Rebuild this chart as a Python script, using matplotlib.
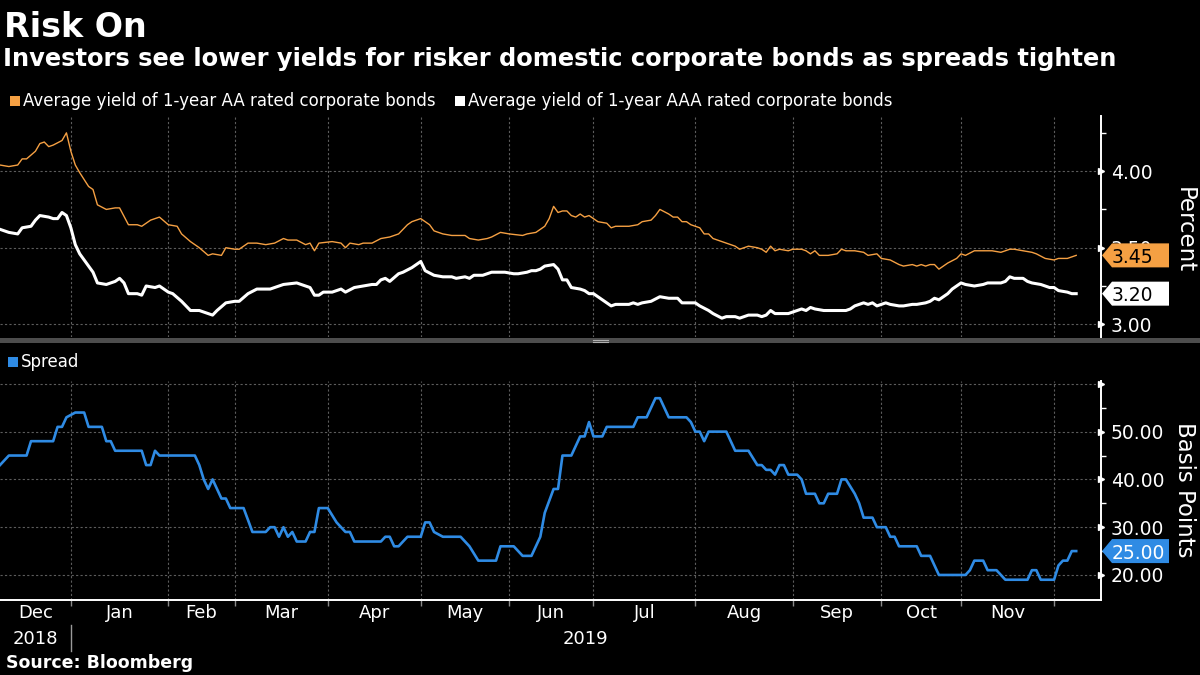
import matplotlib

matplotlib.use("Agg")

import matplotlib.pyplot as plt
import matplotlib.transforms as mtransforms
import numpy as np
from matplotlib.lines import Line2D
from matplotlib.patches import Polygon, Rectangle
from matplotlib.ticker import FixedLocator, FuncFormatter

# trading-day calendar (China interbank) used for the x axis
START = "2018-12-07"
HOLIDAYS = [
    "2018-12-31", "2019-01-01",
    "2019-02-04", "2019-02-05", "2019-02-06", "2019-02-07", "2019-02-08",
    "2019-04-05", "2019-05-01", "2019-05-02", "2019-05-03", "2019-06-07",
    "2019-09-13", "2019-10-01", "2019-10-02", "2019-10-03", "2019-10-04", "2019-10-07",
]
MONTH_STARTS = ["2019-01-01", "2019-02-01", "2019-03-01", "2019-04-01", "2019-05-01", "2019-06-01",
                "2019-07-01", "2019-08-01", "2019-09-01", "2019-10-01", "2019-11-01", "2019-12-01"]
MONTH_LABELS = ["Dec", "Jan", "Feb", "Mar", "Apr", "May", "Jun", "Jul", "Aug", "Sep", "Oct", "Nov"]
YEAR_LABELS = ["2018", "2019"]

# (trading day since START, value)
aa_yield = [
    (0, 4.04), (2, 4.03), (4, 4.04), (5, 4.08), (6, 4.08), (8, 4.13), (9, 4.18), (10, 4.19), (11, 4.16),
    (12, 4.17), (14, 4.20), (15, 4.25), (16, 4.13), (17, 4.04), (18, 3.99), (20, 3.90), (21, 3.88),
    (22, 3.78), (24, 3.75), (26, 3.76), (27, 3.76), (29, 3.65), (31, 3.65), (32, 3.64), (34, 3.68),
    (36, 3.70), (38, 3.65), (40, 3.64), (41, 3.59), (43, 3.54), (45, 3.50), (47, 3.45), (48, 3.46),
    (50, 3.45), (51, 3.50), (53, 3.49), (54, 3.49), (56, 3.53), (58, 3.53), (60, 3.52), (62, 3.53),
    (64, 3.56), (65, 3.55), (67, 3.55), (69, 3.52), (70, 3.53), (71, 3.48), (72, 3.53), (75, 3.54),
    (77, 3.53), (78, 3.50), (79, 3.53), (81, 3.52), (82, 3.53), (84, 3.53), (86, 3.56), (88, 3.57),
    (90, 3.59), (92, 3.65), (93, 3.67), (95, 3.69), (97, 3.65), (98, 3.61), (100, 3.59), (102, 3.58),
    (105, 3.58), (106, 3.56), (108, 3.55), (110, 3.56), (111, 3.57), (113, 3.60), (115, 3.59),
    (118, 3.58), (119, 3.59), (121, 3.60), (123, 3.64), (124, 3.69), (125, 3.77), (126, 3.73),
    (127, 3.74), (128, 3.74), (129, 3.71), (130, 3.70), (131, 3.72), (132, 3.70), (133, 3.71),
    (134, 3.69), (135, 3.67), (137, 3.66), (138, 3.63), (139, 3.64), (142, 3.64), (144, 3.65),
    (145, 3.67), (147, 3.68), (148, 3.71), (149, 3.75), (151, 3.72), (152, 3.70), (153, 3.70),
    (154, 3.67), (155, 3.67), (156, 3.65), (158, 3.63), (159, 3.59), (160, 3.59), (161, 3.56),
    (163, 3.54), (165, 3.52), (166, 3.51), (167, 3.49), (169, 3.51), (171, 3.50), (172, 3.49),
    (173, 3.47), (174, 3.51), (175, 3.48), (176, 3.49), (178, 3.48), (179, 3.49), (181, 3.49),
    (182, 3.48), (183, 3.46), (184, 3.48), (185, 3.45), (187, 3.45), (189, 3.46), (190, 3.49),
    (191, 3.48), (193, 3.48), (195, 3.47), (196, 3.45), (198, 3.46), (199, 3.43), (201, 3.42),
    (203, 3.39), (204, 3.38), (206, 3.39), (207, 3.38), (208, 3.39), (209, 3.38), (210, 3.39),
    (211, 3.39), (212, 3.36), (214, 3.40), (216, 3.43), (217, 3.46), (218, 3.45), (220, 3.48),
    (222, 3.48), (224, 3.48), (226, 3.47), (228, 3.49), (229, 3.49), (231, 3.48), (233, 3.47),
    (234, 3.46), (236, 3.43), (238, 3.42), (239, 3.43), (241, 3.43), (242, 3.44), (243, 3.45),
]

aaa_yield = [
    (0, 3.62), (2, 3.60), (4, 3.59), (5, 3.63), (7, 3.64), (8, 3.68), (9, 3.71), (11, 3.70), (12, 3.69),
    (13, 3.69), (14, 3.73), (15, 3.71), (16, 3.63), (17, 3.52), (18, 3.46), (20, 3.38), (21, 3.34),
    (22, 3.27), (24, 3.26), (26, 3.28), (27, 3.30), (28, 3.27), (29, 3.20), (31, 3.20), (32, 3.19),
    (33, 3.25), (35, 3.24), (36, 3.25), (38, 3.21), (39, 3.20), (41, 3.15), (43, 3.09), (45, 3.09),
    (46, 3.08), (48, 3.06), (49, 3.09), (51, 3.14), (53, 3.15), (54, 3.15), (56, 3.20), (58, 3.23),
    (59, 3.23), (61, 3.23), (62, 3.24), (64, 3.26), (67, 3.27), (68, 3.26), (70, 3.24), (71, 3.19),
    (72, 3.19), (73, 3.21), (75, 3.21), (77, 3.23), (78, 3.21), (80, 3.24), (82, 3.25), (84, 3.26),
    (85, 3.26), (86, 3.29), (87, 3.30), (88, 3.28), (90, 3.33), (91, 3.34), (93, 3.37), (94, 3.39),
    (95, 3.41), (96, 3.35), (98, 3.32), (100, 3.31), (102, 3.31), (103, 3.30), (105, 3.31), (106, 3.30),
    (107, 3.32), (109, 3.32), (111, 3.34), (113, 3.34), (114, 3.34), (116, 3.33), (117, 3.33),
    (119, 3.34), (120, 3.35), (121, 3.35), (122, 3.36), (123, 3.38), (125, 3.39), (126, 3.36),
    (127, 3.29), (128, 3.29), (129, 3.24), (131, 3.23), (132, 3.22), (133, 3.20), (134, 3.20),
    (135, 3.18), (136, 3.16), (138, 3.12), (139, 3.13), (142, 3.13), (143, 3.14), (144, 3.13),
    (145, 3.14), (147, 3.15), (149, 3.18), (151, 3.17), (153, 3.17), (154, 3.14), (157, 3.14),
    (158, 3.12), (160, 3.09), (161, 3.07), (163, 3.04), (164, 3.05), (166, 3.05), (167, 3.04),
    (169, 3.06), (171, 3.06), (172, 3.05), (173, 3.06), (174, 3.09), (175, 3.07), (178, 3.07),
    (179, 3.08), (181, 3.10), (182, 3.09), (183, 3.11), (184, 3.10), (186, 3.09), (188, 3.09),
    (191, 3.09), (192, 3.10), (193, 3.12), (195, 3.14), (196, 3.13), (197, 3.14), (198, 3.12),
    (200, 3.14), (201, 3.13), (203, 3.12), (204, 3.12), (206, 3.13), (207, 3.13), (209, 3.14),
    (210, 3.15), (211, 3.17), (212, 3.16), (214, 3.20), (215, 3.23), (217, 3.27), (218, 3.26),
    (220, 3.25), (222, 3.26), (223, 3.27), (224, 3.27), (226, 3.27), (227, 3.28), (228, 3.31),
    (229, 3.30), (231, 3.30), (232, 3.28), (233, 3.27), (235, 3.26), (236, 3.25), (237, 3.24),
    (238, 3.24), (239, 3.22), (241, 3.21), (242, 3.20), (243, 3.20),
]

spread_bp = [
    (0, 43), (2, 45), (6, 45), (7, 48), (12, 48), (13, 51), (14, 51), (15, 53), (17, 54), (19, 54),
    (20, 51), (23, 51), (24, 48), (25, 48), (26, 46), (32, 46), (33, 43), (34, 43), (35, 46), (36, 45),
    (44, 45), (45, 43), (46, 40), (47, 38), (48, 40), (50, 36), (51, 36), (52, 34), (55, 34), (57, 29),
    (60, 29), (61, 30), (62, 30), (63, 28), (64, 30), (65, 28), (66, 29), (67, 27), (69, 27), (70, 29),
    (71, 29), (72, 34), (74, 34), (76, 31), (78, 29), (79, 29), (80, 27), (86, 27), (87, 28), (88, 28),
    (89, 26), (90, 26), (92, 28), (95, 28), (96, 31), (97, 31), (98, 29), (100, 28), (104, 28),
    (106, 26), (108, 23), (112, 23), (113, 26), (116, 26), (118, 24), (120, 24), (122, 28), (123, 33),
    (125, 38), (126, 38), (127, 45), (129, 45), (131, 49), (132, 49), (133, 52), (134, 49), (136, 49),
    (137, 51), (143, 51), (144, 53), (146, 53), (148, 57), (149, 57), (151, 53), (155, 53), (156, 52),
    (157, 50), (158, 50), (159, 48), (160, 50), (164, 50), (166, 46), (169, 46), (171, 43), (172, 43),
    (173, 42), (174, 42), (175, 41), (176, 43), (177, 43), (178, 41), (180, 41), (181, 40), (182, 37),
    (184, 37), (185, 35), (186, 35), (187, 37), (189, 37), (190, 40), (191, 40), (193, 37), (194, 35),
    (195, 32), (197, 32), (198, 30), (200, 30), (201, 28), (202, 28), (203, 26), (207, 26), (208, 24),
    (210, 24), (212, 20), (218, 20), (219, 21), (220, 23), (222, 23), (223, 21), (225, 21), (227, 19),
    (232, 19), (233, 21), (234, 21), (235, 19), (238, 19), (239, 22), (240, 23), (241, 23), (242, 25),
    (243, 25),
]

BG = "black"
ORANGE = "#f5a043"
WHITE = "white"
BLUE = "#2f8be4"
GRID = "#5c5c5c"
FONT = "DejaVu Sans"

plt.rcParams["font.family"] = FONT

W, H = 1200, 675
XMAX = 248.6

month_edges = np.busday_count(START, MONTH_STARTS, holidays=HOLIDAYS)
label_edges = np.concatenate([[0], month_edges])
month_mid = (label_edges[:-1] + label_edges[1:]) / 2


def fx(px):
    return px / W


def fy(py):
    return 1 - py / H


fig = plt.figure(figsize=(12, 6.75), dpi=100, facecolor=BG)
ax_top = fig.add_axes([0, fy(337), fx(1101), fy(116) - fy(337)])
ax_bot = fig.add_axes([0, fy(600), fx(1101), fy(381) - fy(600)])


def style_axis(ax, ylim, majors, minors, fmt):
    ax.set_facecolor(BG)
    ax.set_xlim(0, XMAX)
    ax.set_ylim(*ylim)
    for side in ("top", "left", "bottom"):
        ax.spines[side].set_visible(False)
    ax.spines["right"].set_color(WHITE)
    ax.spines["right"].set_linewidth(1.4)
    ax.yaxis.tick_right()
    ax.yaxis.set_major_locator(FixedLocator(majors))
    ax.yaxis.set_minor_locator(FixedLocator(minors))
    ax.yaxis.set_major_formatter(FuncFormatter(fmt))
    ax.tick_params(axis="y", which="major", length=0, pad=7, labelsize=13.5, labelcolor=WHITE)
    ax.tick_params(axis="y", which="minor", length=3.5, width=1, color=WHITE)
    ax.xaxis.set_major_locator(FixedLocator(month_edges))
    ax.tick_params(axis="x", which="both", length=0, labelbottom=False)
    ax.grid(True, axis="both", which="major", color=GRID, linestyle=(0, (2, 2)), linewidth=0.8)
    ax.set_axisbelow(True)
    ax.plot(np.ones(len(majors)), majors, transform=ax.get_yaxis_transform(), marker=">",
            markersize=5, color=WHITE, linestyle="none", clip_on=False)


style_axis(ax_top, (2.917, 4.36), [3.0, 3.5, 4.0], [3.25, 3.75, 4.25], lambda v, p: f"{v:.2f}")
style_axis(ax_bot, (14.76, 60.6), [20, 30, 40, 50, 60], [25, 35, 45, 55],
           lambda v, p: "" if v >= 60 else f"{v:.2f}")

ax_bot.spines["bottom"].set_visible(True)
ax_bot.spines["bottom"].set_color(WHITE)
ax_bot.spines["bottom"].set_linewidth(1.4)
ax_bot.tick_params(axis="x", which="major", length=4, width=1, color="#8a8a8a", direction="out")

aa_d, aa_v = zip(*aa_yield)
aaa_d, aaa_v = zip(*aaa_yield)
sp_d, sp_v = zip(*spread_bp)

ax_top.plot(aa_d, aa_v, color=ORANGE, linewidth=1.0)
ax_top.plot(aaa_d, aaa_v, color=WHITE, linewidth=2.2)
ax_bot.plot(sp_d, sp_v, color=BLUE, linewidth=1.9)

# axis titles on the right
fig.text(fx(1184), fy(230), "Percent", rotation=270, color=WHITE, fontsize=16.5,
         ha="center", va="center")
fig.text(fx(1184), fy(490), "Basis Points", rotation=270, color=WHITE, fontsize=16.5,
         ha="center", va="center")


def value_tag(ax, value, text, face, txt_color):
    _, yd = ax.transData.transform((0, value))
    yc = fig.transFigure.inverted().transform((0, yd))[1]
    hh = 12 / H
    pts = [(fx(1102), yc), (fx(1112), yc + hh), (fx(1169), yc + hh), (fx(1169), yc - hh), (fx(1112), yc - hh)]
    fig.patches.append(Polygon(pts, closed=True, facecolor=face, edgecolor="none",
                               transform=fig.transFigure, zorder=5))
    fig.text(fx(1112), yc, text, color=txt_color, fontsize=13.5, ha="left", va="center_baseline", zorder=6)


value_tag(ax_top, aa_v[-1], f"{aa_v[-1]:.2f}", ORANGE, "black")
value_tag(ax_top, aaa_v[-1], f"{aaa_v[-1]:.2f}", WHITE, "black")
value_tag(ax_bot, sp_v[-1], f"{sp_v[-1]:.2f}", BLUE, WHITE)

# month / year labels below the bottom panel
xfig = mtransforms.blended_transform_factory(ax_bot.transData, fig.transFigure)
for mid, lab in zip(month_mid, MONTH_LABELS):
    fig.text(mid, fy(613), lab, transform=xfig, color=WHITE, fontsize=13, ha="center", va="center")
fig.text(month_mid[0], fy(639), YEAR_LABELS[0], transform=xfig, color=WHITE, fontsize=13,
         ha="center", va="center")
fig.text((month_edges[0] + XMAX) / 2, fy(639), YEAR_LABELS[1], transform=xfig, color=WHITE,
         fontsize=13, ha="center", va="center")
fig.lines.append(Line2D([month_edges[0], month_edges[0]], [fy(625), fy(651)], transform=xfig,
                        color="#9a9a9a", linewidth=1))

# divider between the panels
fig.patches.append(Rectangle((0, fy(342.5)), 1, 4.5 / H, transform=fig.transFigure,
                             facecolor="#4d4d4d", edgecolor="none"))
for py in (339.6, 341.6):
    fig.lines.append(Line2D([fx(593), fx(608)], [fy(py), fy(py)], transform=fig.transFigure,
                            color="#b0b0b0", linewidth=0.8))

# titles
fig.text(fx(4), fy(37), "Risk On", color=WHITE, fontsize=24, fontweight="bold", va="baseline")
fig.text(fx(3), fy(66), "Investors see lower yields for risker domestic corporate bonds as spreads tighten",
         color=WHITE, fontsize=17.4, fontweight="bold", va="baseline")

# legends
def legend_item(px, py, color, label):
    fig.patches.append(Rectangle((fx(px), fy(py + 5)), 10 / W, 10 / H, transform=fig.transFigure,
                                 facecolor=color, edgecolor="none"))
    fig.text(fx(px + 13), fy(py), label, color=WHITE, fontsize=12, va="center")


legend_item(10, 101, ORANGE, "Average yield of 1-year AA rated corporate bonds")
legend_item(455, 101, WHITE, "Average yield of 1-year AAA rated corporate bonds")
legend_item(8, 362, BLUE, "Spread")

fig.text(fx(6), fy(663), "Source: Bloomberg", color=WHITE, fontsize=12.5, fontweight="bold", va="center")

fig.savefig("out.png", dpi=100, facecolor=BG)
